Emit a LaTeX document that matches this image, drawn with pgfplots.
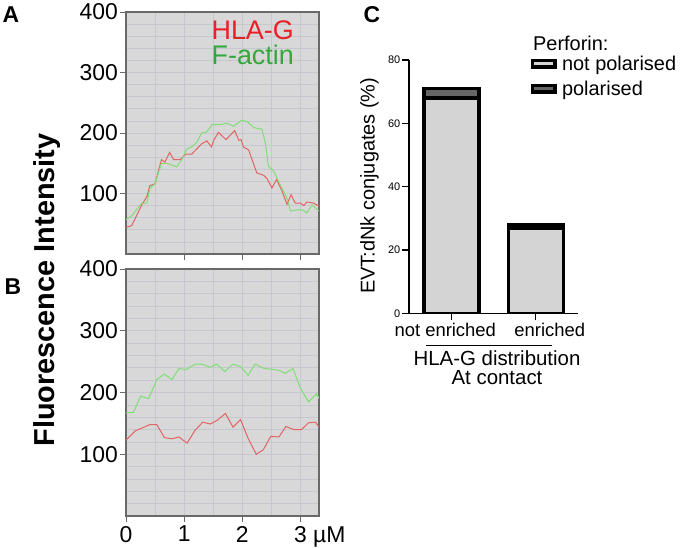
\documentclass[border=0pt]{standalone}
\usepackage{fontspec}
\setmainfont{Liberation Sans}
\usepackage{pgfplots}
\pgfplotsset{compat=1.18}
\definecolor{bggray}{RGB}{216,216,216}
\definecolor{gridcol}{RGB}{197,200,207}
\definecolor{framegray}{RGB}{105,105,105}
\definecolor{hlared}{RGB}{226,100,100}
\definecolor{actingreen}{RGB}{128,222,118}
\definecolor{hlatext}{RGB}{232,32,40}
\definecolor{actintext}{RGB}{52,168,60}
\definecolor{barlight}{RGB}{212,212,212}
\definecolor{bardark}{RGB}{102,102,102}
\newcommand{\fs}[1]{\fontsize{#1}{#1}\selectfont}

\pgfplotsset{
  profile/.style={
    scale only axis, width=193bp,
    xmin=0, xmax=3.32, ymin=0, ymax=400,
    axis background/.style={fill=bggray},
    axis line style={draw=framegray, line width=1.3bp},
    ytick={100,200,300,400},
    minor ytick={20,40,...,380},
    minor xtick={0.5,1.5,2.5},
    grid=both,
    major grid style={draw=gridcol, line width=0.7bp},
    minor grid style={draw=gridcol, line width=0.7bp},
    tick pos=left, tick align=outside,
    major tick length=6bp, minor tick length=0pt,
    tick style={draw=framegray, line width=1bp},
    ticklabel style={font=\fs{23}},
    yticklabel style={inner sep=2bp},
    xticklabel style={inner sep=4bp},
    /pgf/number format/assume math mode=true,
  },
}

\begin{document}
\begin{tikzpicture}
\useasboundingbox (0,0) rectangle (680bp,-548bp);

% A
\begin{axis}[profile, at={(126bp,-254bp)}, anchor=south west, height=242bp,
  xtick={1,2,3}, xticklabels={},
  legend image code/.code={},
  legend style={at={(0.44,0.968)}, anchor=north west, draw=none, fill=none,
    inner sep=0pt, font=\fs{27}, row sep=3bp, nodes={inner sep=0.5bp}},
  legend cell align=left]
\addplot[hlared, line width=1bp] coordinates {
(0,44) (0.10,47) (0.18,63) (0.27,81) (0.36,95) (0.41,113) (0.50,116) (0.61,156)
(0.67,152) (0.75,168) (0.82,156) (0.93,156) (1.03,165) (1.13,165) (1.22,174)
(1.30,182) (1.39,187) (1.47,177) (1.51,188) (1.59,201) (1.72,189) (1.87,204)
(1.94,188) (1.98,189) (2.02,177) (2.11,172) (2.25,134) (2.37,130) (2.43,124)
(2.51,109) (2.59,123) (2.68,105) (2.77,82) (2.84,98) (2.91,84) (3.00,84)
(3.06,80) (3.11,86) (3.23,84) (3.32,79)};
\addlegendentry[text=hlatext]{HLA-G}
\addplot[actingreen, line width=1bp] coordinates {
(0,57) (0.10,63) (0.18,73) (0.27,84) (0.36,84) (0.41,108) (0.50,116) (0.61,150)
(0.70,150) (0.79,147) (0.87,144) (0.96,156) (1.05,174) (1.13,177) (1.22,185)
(1.30,200) (1.39,202) (1.48,214) (1.62,214) (1.74,216) (1.85,211) (1.99,221)
(2.08,219) (2.20,209) (2.34,206) (2.40,182) (2.45,145) (2.54,137) (2.66,113)
(2.77,92) (2.83,71) (2.94,73) (3.03,73) (3.11,68) (3.20,81) (3.32,71)};
\addlegendentry[text=actintext]{F-actin}
\end{axis}

% B
\begin{axis}[profile, at={(126bp,-516bp)}, anchor=south west, height=247bp,
  xtick={0,1,2,3}, xticklabels={0,1,2,{3\rlap{\ µM}}},
  ylabel={Fluorescence Intensity},
  ylabel style={at={(axis description cs:-0.409,0.915)}, anchor=center,
    font=\fs{29}\bfseries}]
\addplot[hlared, line width=1bp] coordinates {
(0,123) (0.16,138) (0.29,143) (0.41,148) (0.53,148) (0.66,127) (0.79,125)
(0.91,128) (1.05,118) (1.19,139) (1.32,152) (1.45,149) (1.57,155) (1.71,166)
(1.84,144) (1.97,156) (2.10,126) (2.24,100) (2.36,107) (2.49,129) (2.63,128)
(2.75,145) (2.89,140) (3.02,140) (3.14,151) (3.26,152) (3.32,144)};
\addplot[actingreen, line width=1bp] coordinates {
(0,167) (0.13,168) (0.25,194) (0.39,190) (0.53,221) (0.66,230) (0.79,221)
(0.91,239) (1.03,237) (1.19,246) (1.30,246) (1.45,241) (1.56,246) (1.70,234)
(1.84,246) (1.97,242) (2.10,228) (2.22,246) (2.37,239) (2.48,238) (2.63,236)
(2.74,231) (2.87,239) (3.00,207) (3.14,185) (3.28,198) (3.32,190)};
\end{axis}

% C
\begin{axis}[at={(409bp,-313.3bp)}, anchor=south west, scale only axis,
  width=169bp, height=253.3bp,
  xmin=-0.5, xmax=1.5, ymin=0, ymax=80,
  axis lines*=left, axis line style={draw=black, line width=1.6bp},
  ybar stacked, bar width=55bp,
  xtick={0,1},
  xticklabels={{\hspace*{-12bp}not enriched},{\hspace*{28bp}enriched}},
  ytick={0,20,40,60,80},
  tick align=outside, major tick length=7bp,
  tick style={draw=black, line width=1.3bp},
  yticklabel style={font=\fs{11}, inner sep=1.5bp},
  xticklabel style={font=\fs{18.5}, inner sep=3bp},
  /pgf/number format/assume math mode=true,
  ylabel={EVT:dNk conjugates (\%)},
  ylabel style={at={(axis description cs:-0.234,0.504)}, anchor=center, font=\fs{20}},
  legend image code/.code={\draw[#1] (0bp,-3.2bp) rectangle (22.5bp,3.2bp);},
  legend style={at={(0.718,1.019)}, anchor=north west, draw=none, fill=none,
    inner sep=0pt, font=\fs{20}, row sep=8bp, nodes={inner sep=0.5bp},
    /tikz/every odd column/.append style={column sep=5bp}},
  legend cell align=left]
\addplot[fill=barlight, draw=black, line width=3.5bp] coordinates {(0,68) (1,27)};
\addlegendentry{not polarised}
\addplot[fill=bardark, draw=black, line width=3.5bp] coordinates {(0,3) (1,1)};
\addlegendentry{polarised}
\end{axis}

\node[anchor=base west, font=\fs{20}, inner sep=0pt] at (533bp,-50bp) {Perforin:};
\draw[line width=1.3bp] (426bp,-345.7bp) -- (552bp,-345.7bp);
\node[anchor=base, font=\fs{20.5}, inner sep=0pt] at (497bp,-365bp) {HLA-G distribution};
\node[anchor=base, font=\fs{20.5}, inner sep=0pt] at (497bp,-384bp) {At contact};

\node[font=\fs{23}\bfseries, inner sep=0pt] at (11bp,-15bp) {A};
\node[font=\fs{23}\bfseries, inner sep=0pt] at (13bp,-287bp) {B};
\node[font=\fs{23}\bfseries, inner sep=0pt] at (372bp,-15bp) {C};
\end{tikzpicture}
\end{document}
